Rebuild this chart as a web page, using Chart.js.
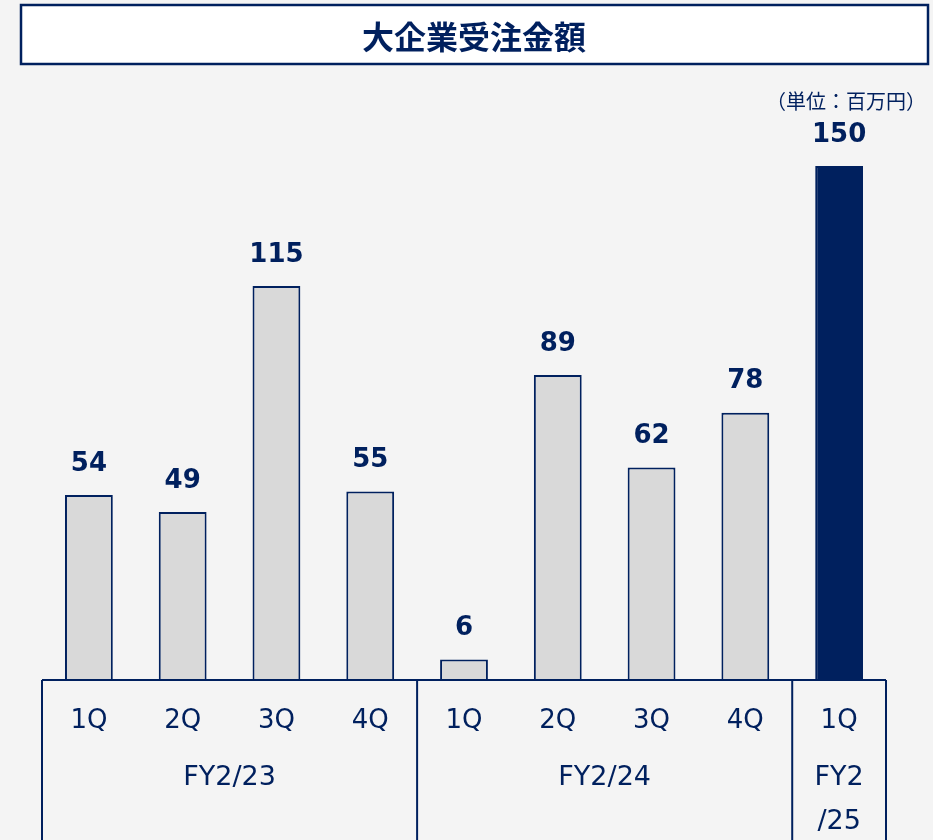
<!DOCTYPE html>
<html><head><meta charset="utf-8">
<script src="https://cdn.jsdelivr.net/npm/chart.js@4"></script>
<style>html,body{margin:0;padding:0;background:#f4f4f4;}#wrap{width:933px;height:840px;}</style>
</head><body><div id="wrap"><canvas id="c" width="933" height="840"></canvas></div>
<script>
const chartTitle = '大企業受注金額';
const unitLabel = '（単位：百万円）';
const quarters = ['1Q','2Q','3Q','4Q','1Q','2Q','3Q','4Q','1Q'];
const values = [54, 49, 115, 55, 6, 89, 62, 78, 150];
const fiscalYearLines = [['FY2/23'], ['FY2/24'], ['FY2', '/25']];
const groupSizes = [4, 4, 1];
const highlightIndex = 8;

const NAVY = '#00205e';
const GRAY = '#d9d9d9';
const BG = '#f4f4f4';

const deco = {
  id: 'deco',
  beforeDraw(chart) {
    const ctx = chart.ctx;
    ctx.save();
    ctx.fillStyle = BG;
    ctx.fillRect(0, 0, chart.width, chart.height);
    ctx.restore();
  },
  afterDraw(chart) {
    const ctx = chart.ctx;
    const xs = chart.scales.x, ys = chart.scales.y;
    const area = chart.chartArea;
    ctx.save();
    // title box
    ctx.fillStyle = '#ffffff';
    ctx.fillRect(21, 5, 907, 59);
    ctx.strokeStyle = NAVY;
    ctx.lineWidth = 2.5;
    ctx.strokeRect(21, 5, 907, 59);
    ctx.fillStyle = NAVY;
    ctx.font = 'bold 32px "Noto Sans CJK JP", sans-serif';
    ctx.textAlign = 'center';
    ctx.textBaseline = 'middle';
    ctx.fillText(chartTitle, 474, 37);
    // unit label
    ctx.font = '20px "Noto Sans CJK JP", sans-serif';
    ctx.textAlign = 'right';
    ctx.fillText(unitLabel, 926, 101);
    // value labels
    ctx.textAlign = 'center';
    ctx.font = 'bold 26px "DejaVu Sans", sans-serif';
    values.forEach((v, i) => {
      ctx.fillText(String(v), xs.getPixelForValue(i), ys.getPixelForValue(v) - 31);
    });
    // axis table
    const left = area.left, right = area.right, base = ys.getPixelForValue(0);
    const step = (right - left) / quarters.length;
    ctx.lineWidth = 2;
    ctx.beginPath();
    ctx.moveTo(left, base); ctx.lineTo(right, base);
    let idx = 0;
    const bounds = [left];
    groupSizes.forEach(n => { idx += n; bounds.push(left + idx * step); });
    bounds.forEach(b => { ctx.moveTo(b, base); ctx.lineTo(b, chart.height); });
    ctx.stroke();
    // quarter labels
    ctx.font = '26px "DejaVu Sans", sans-serif';
    quarters.forEach((q, i) => ctx.fillText(q, xs.getPixelForValue(i), 721));
    // fiscal year labels
    ctx.font = '27px "DejaVu Sans", sans-serif';
    fiscalYearLines.forEach((lines, g) => {
      const cx = (bounds[g] + bounds[g + 1]) / 2;
      lines.forEach((t, k) => ctx.fillText(t, cx, 778 + k * 44));
    });
    ctx.restore();
  }
};

new Chart(document.getElementById('c'), {
  type: 'bar',
  data: {
    labels: quarters.map((q, i) => q + '_' + i),
    datasets: [{
      data: values,
      backgroundColor: values.map((v, i) => i === highlightIndex ? NAVY : GRAY),
      borderColor: NAVY,
      borderWidth: 2,
      borderSkipped: 'bottom',
      categoryPercentage: 1,
      barPercentage: 0.51
    }]
  },
  options: {
    responsive: false,
    animation: false,
    layout: { padding: { left: 42, right: 47, top: 166, bottom: 160 } },
    plugins: { legend: { display: false }, tooltip: { enabled: false } },
    scales: {
      x: { display: false },
      y: { display: false, min: 0, max: 150 }
    }
  },
  plugins: [deco]
});
</script>
</body></html>
